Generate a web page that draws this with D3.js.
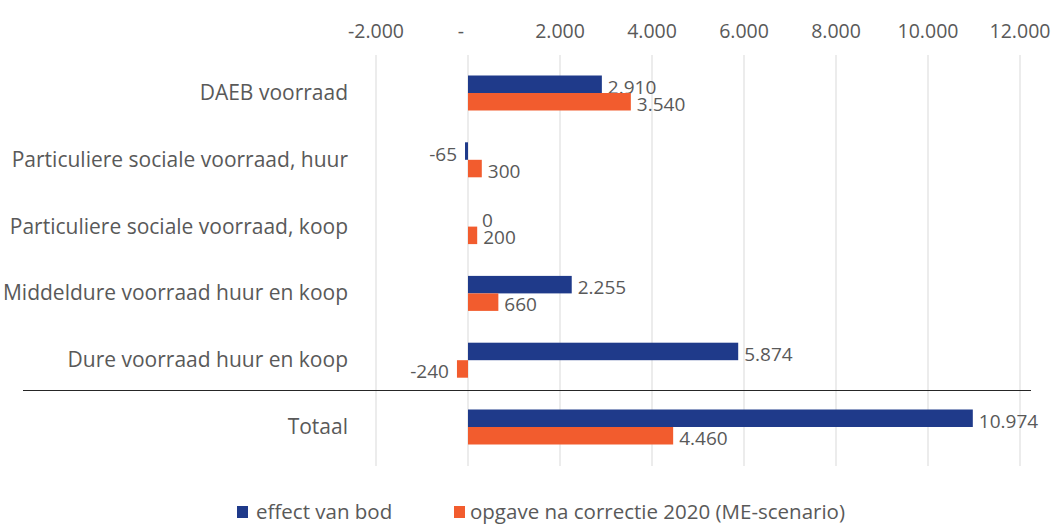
<!DOCTYPE html>
<html><head><meta charset="utf-8">
<script src="https://cdn.jsdelivr.net/npm/d3@7"></script>
<style>body{margin:0;background:#fff}svg{display:block}text{font-family:"Open Sans",sans-serif;fill:#595959}</style>
</head><body><svg id="c" width="1059" height="525"></svg>
<script>
const categories = ["DAEB voorraad","Particuliere sociale voorraad, huur","Particuliere sociale voorraad, koop","Middeldure voorraad huur en koop","Dure voorraad huur en koop","Totaal"];
const effectVanBod = [2910,-65,0,2255,5874,10974];
const opgave = [3540,300,200,660,-240,4460];
const seriesNames = ["effect van bod","opgave na correctie 2020 (ME-scenario)"];
const tickValues = [-2000,0,2000,4000,6000,8000,10000,12000];
const tickLabels = ["-2.000","-","2.000","4.000","6.000","8.000","10.000","12.000"];
const colors = ["#1F3A8A","#F25C2E"];

const svg = d3.select("#c");
const x = d3.scaleLinear().domain([-2000,12000]).range([376,1020]);
const y = d3.scalePoint().domain(categories).range([93,427]);
const barH = 17.5;
const fmt = v => d3.format(",")(v).replace(/,/g,".").replace("\u2212","-");

// gridlines
svg.append("g").selectAll("line").data(tickValues).join("line")
  .attr("x1",d=>x(d)).attr("x2",d=>x(d)).attr("y1",55).attr("y2",466)
  .attr("stroke","#d9d9d9").attr("stroke-width",1);

// top axis labels
svg.append("g").selectAll("text").data(tickValues).join("text")
  .attr("x",(d,i)=>x(d)+(d===0?-7:0)).attr("y",38)
  .attr("text-anchor","middle").attr("font-size",19.5)
  .text((d,i)=>tickLabels[i]);

// separator
svg.append("line").attr("x1",23).attr("x2",1031).attr("y1",390.5).attr("y2",390.5)
  .attr("stroke","#262626").attr("stroke-width",1.2);

const series = [effectVanBod, opgave];
series.forEach((vals,s)=>{
  const g = svg.append("g");
  g.selectAll("rect").data(vals).join("rect")
    .attr("x",d=>Math.min(x(0),x(d))).attr("width",d=>Math.abs(x(d)-x(0)))
    .attr("y",(d,i)=>y(categories[i]) - barH + s*barH).attr("height",barH)
    .attr("fill",colors[s]);
  g.selectAll("text").data(vals).join("text")
    .attr("x",d=> d<0 ? x(d)-8 : x(d)+ (d===0?14:6))
    .attr("text-anchor",d=>d<0?"end":"start")
    .attr("y",(d,i)=>y(categories[i]) - barH/2 + s*(barH-0.5) + 9.5)
    .attr("font-size",19)
    .text(d=>fmt(d));
});

// category labels
svg.append("g").selectAll("text").data(categories).join("text")
  .attr("x",348).attr("y",d=>y(d)+7).attr("text-anchor","end").attr("font-size",21)
  .text(d=>d);

// legend
const leg = [{x:237,tx:256},{x:454,tx:470}];
leg.forEach((l,i)=>{
  svg.append("rect").attr("x",l.x).attr("y",506).attr("width",11).attr("height",12).attr("fill",colors[i]);
  svg.append("text").attr("x",l.tx).attr("y",518.5).attr("font-size",20.5).text(seriesNames[i]);
});
</script></body></html>
